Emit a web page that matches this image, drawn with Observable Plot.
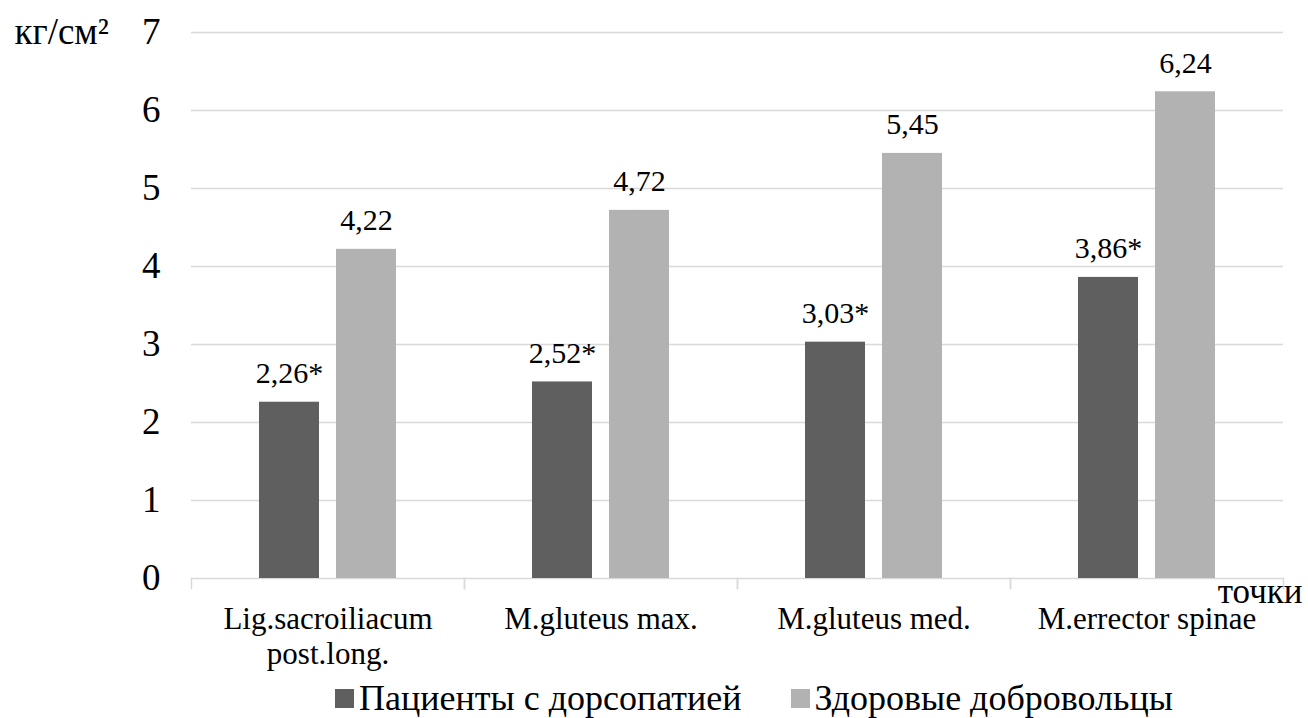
<!DOCTYPE html>
<html>
<head>
<meta charset="utf-8">
<script src="https://cdn.jsdelivr.net/npm/d3@7"></script>
<script src="https://cdn.jsdelivr.net/npm/@observablehq/plot@0.6"></script>
<style>
  html, body { margin: 0; padding: 0; background: #fff; }
  #chart svg { display: block; font-family: "Liberation Serif", "Times New Roman", serif !important; }
  #chart svg text { font-family: "Liberation Serif", "Times New Roman", serif; }
  #legend { margin-left: 335px; padding-top: 6px; height: 40px; }
  #legend .lg-swatches { font-family: "Liberation Serif", "Times New Roman", serif !important; font-size: 36px !important; color: #000; margin: 0 !important; line-height: 40px; }
  #legend .lg-swatch { margin-right: 49px !important; }
  #legend .lg-swatch > svg { margin-right: 5px !important; }
</style>
</head>
<body>
<div id="chart"></div>
<div id="legend"></div>
<script>
// Pressure pain threshold by trigger point, two groups
const categories = ["Lig.sacroiliacum\npost.long.", "M.gluteus max.", "M.gluteus med.", "M.errector spinae"];
const seriesNames = ["Пациенты с дорсопатией", "Здоровые добровольцы"];
const patients = [2.26, 2.52, 3.03, 3.86];
const healthy = [4.22, 4.72, 5.45, 6.24];
const patientMarks = ["*", "*", "*", "*"]; // significant difference vs. volunteers
const healthyMarks = ["", "", "", ""];
const yTicks = [0, 1, 2, 3, 4, 5, 6, 7];
const unitLabel = "кг/см²";
const xLabel = "точки";

const colors = ["#5f5f5f", "#b2b2b2"];
const font = "Liberation Serif";

const rows = categories.flatMap((cat, i) => [
  {cat, series: seriesNames[0], value: patients[i], mark: patientMarks[i]},
  {cat, series: seriesNames[1], value: healthy[i], mark: healthyMarks[i]}
]);
const fmt = (d) => d.value.toFixed(2).replace(".", ",") + d.mark;

const height = 672, marginTop = 32, marginBottom = 94;
const innerHeight = height - marginTop - marginBottom;
const grid = "#d9d9d9";

const chart = Plot.plot({
  width: 1308,
  height,
  marginLeft: 190,
  marginRight: 24,
  marginTop,
  marginBottom,
  style: {fontFamily: font, color: "#000", background: "#fff", overflow: "visible"},
  fx: {domain: categories, padding: 0, label: null},
  x: {domain: seriesNames, paddingInner: 0.218, paddingOuter: 0.862, axis: null},
  y: {domain: [0, 7], axis: null},
  color: {domain: seriesNames, range: colors},
  marks: [
    Plot.gridY(yTicks.filter((t) => t > 0), {stroke: grid, strokeOpacity: 1, strokeWidth: 1.5}),
    Plot.axisY(yTicks, {tickSize: 0, tickPadding: 31, fontSize: 37, fontFamily: font, tickFormat: "d", label: null}),
    Plot.axisFx({anchor: "bottom", tickSize: 0, tickPadding: 26, fontSize: 31, fontFamily: font, lineHeight: 1.13, label: null}),
    Plot.ruleY([0], {stroke: grid, strokeWidth: 1.5}),
    // category separator ticks below the baseline
    Plot.frame({anchor: "left", insetTop: innerHeight, insetBottom: -10, stroke: grid, strokeWidth: 1.5}),
    Plot.frame({anchor: "right", insetTop: innerHeight, insetBottom: -10, stroke: grid, strokeWidth: 1.5}),
    Plot.barY(rows, {fx: "cat", x: "series", y: "value", fill: "series"}),
    Plot.text(rows, {fx: "cat", x: "series", y: "value", text: fmt, lineAnchor: "bottom", dy: -19, fontSize: 30, fontFamily: font, fill: "#000"}),
    Plot.text([xLabel], {fx: () => categories[categories.length - 1], frameAnchor: "bottom-right", textAnchor: "end", lineAnchor: "top", dx: 19, dy: 0, fontSize: 35, fontFamily: font, fill: "#000"}),
    Plot.text([unitLabel], {fx: () => categories[0], frameAnchor: "top-left", textAnchor: "start", lineAnchor: "bottom", dx: -177, dy: 11, fontSize: 37, fontFamily: font, fill: "#000"})
  ]
});
document.getElementById("chart").append(chart);

const legend = Plot.legend({
  legend: "swatches",
  color: {domain: seriesNames, range: colors},
  swatchSize: 19,
  className: "lg",
  style: {fontFamily: font, fontSize: "36px", color: "#000"}
});
document.getElementById("legend").append(legend);
</script>
</body>
</html>
